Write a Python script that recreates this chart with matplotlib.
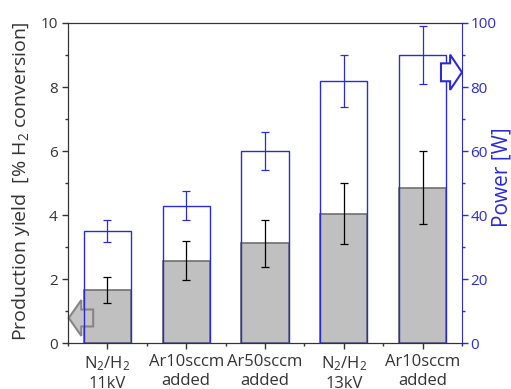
import matplotlib.pyplot as plt
from matplotlib.patches import FancyArrow
from matplotlib.ticker import MultipleLocator

plt.rcParams['font.family'] = ['Open Sans', 'DejaVu Sans']
plt.rcParams['mathtext.fontset'] = 'custom'
plt.rcParams['mathtext.rm'] = 'Open Sans'
plt.rcParams['mathtext.it'] = 'Open Sans'

labels = ['N$_2$/H$_2$\n11kV', 'Ar10sccm\nadded', 'Ar50sccm\nadded',
          'N$_2$/H$_2$\n13kV', 'Ar10sccm\nadded']
yield_val = [1.67, 2.58, 3.12, 4.04, 4.86]
yield_err = [0.40, 0.60, 0.73, 0.95, 1.15]
power_val = [35, 43, 60, 82, 90]
power_err = [3.5, 4.4, 6.0, 8.1, 9.0]

blue = '#2a2ad8'
dark = '#333333'
x = list(range(1, len(labels) + 1))

fig = plt.figure(figsize=(5.11, 3.89), dpi=100)
ax = fig.add_axes([0.133, 0.1175, 0.771, 0.8235])
ax2 = ax.twinx()

# production yield: grey bars with black error bars
ax.bar(x, yield_val, width=0.6, color='#c0c0c0', edgecolor='#707070', linewidth=1.2, zorder=2)
ax.errorbar(x, yield_val, yerr=yield_err, fmt='none', ecolor='black',
            elinewidth=0.9, capsize=3, capthick=0.9, zorder=3)

# power: open bars with blue outlines on the twin axis
ax2.bar(x, power_val, width=0.6, facecolor='none', edgecolor=blue, linewidth=1.0, zorder=2)
ax2.errorbar(x, power_val, yerr=power_err, fmt='none', ecolor=blue,
             elinewidth=0.9, capsize=3, capthick=0.9, zorder=3)

ax.set_xlim(0.5, 5.5)
ax.set_ylim(0, 10)
ax2.set_ylim(0, 100)
ax.set_xticks(x)
ax.set_xticklabels(labels, fontsize=12, color=dark)
ax.xaxis.set_minor_locator(MultipleLocator(1, offset=0.5))
ax.yaxis.set_major_locator(MultipleLocator(2))
ax.yaxis.set_minor_locator(MultipleLocator(1))
ax2.yaxis.set_major_locator(MultipleLocator(20))
ax2.yaxis.set_minor_locator(MultipleLocator(10))

ax.tick_params(axis='both', which='major', direction='out', length=4, width=1,
               labelsize=11, labelcolor=dark, color=dark)
ax.tick_params(axis='x', labelsize=12, pad=4)
ax.tick_params(axis='both', which='minor', direction='out', length=2.5, width=1, color=dark)
ax2.tick_params(axis='y', which='major', direction='out', length=4, width=1,
                labelsize=11, labelcolor=blue, color=blue, pad=2)
ax2.tick_params(axis='y', which='minor', direction='out', length=2.5, width=1, color=blue)

for side in ['left', 'bottom', 'top']:
    ax.spines[side].set_color(dark)
    ax2.spines[side].set_color(dark)
ax2.spines['right'].set_color(blue)
ax.spines['right'].set_visible(False)

ax.set_ylabel('Production yield  [% H$_2$ conversion]', fontsize=14, color=dark)
ax.yaxis.set_label_coords(-0.092, 0.506)
ax2.set_ylabel('Power [W]', fontsize=15, color=blue)
ax2.yaxis.set_label_coords(1.074, 0.517)

# arrows pointing to the matching axis
ax.add_patch(FancyArrow(0.82, 0.79, -0.31, 0, width=0.53, head_width=1.12,
                        head_length=0.16, length_includes_head=True,
                        facecolor='#c4c4c4', edgecolor='#858585', linewidth=1.5,
                        zorder=4, clip_on=False))
ax2.add_patch(FancyArrow(5.234, 84.6, 0.266, 0, width=5.6, head_width=11,
                         head_length=0.15, length_includes_head=True,
                         facecolor='white', edgecolor=blue, linewidth=1.5,
                         zorder=4, clip_on=False))

fig.savefig('out.png', dpi=100)
